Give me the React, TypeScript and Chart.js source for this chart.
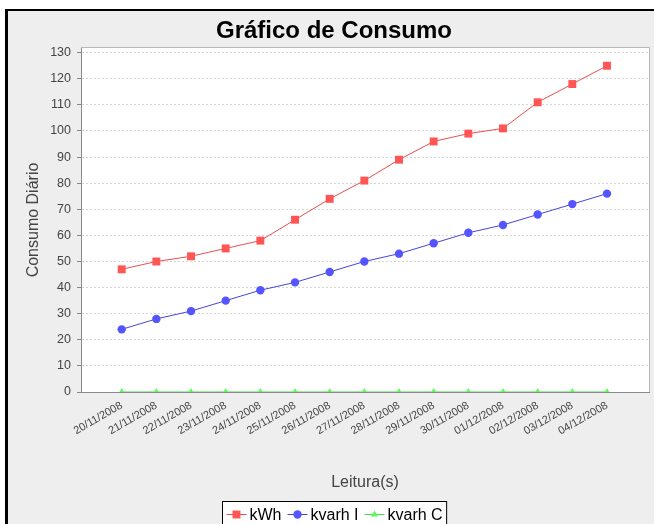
import React, { useEffect, useRef } from 'react';
import { Chart, registerables } from 'chart.js';
import { drawPoint } from 'chart.js/helpers';

Chart.register(...registerables);

const categories = [
  '20/11/2008', '21/11/2008', '22/11/2008', '23/11/2008', '24/11/2008',
  '25/11/2008', '26/11/2008', '27/11/2008', '28/11/2008', '29/11/2008',
  '30/11/2008', '01/12/2008', '02/12/2008', '03/12/2008', '04/12/2008',
];
const kwh = [47, 50, 52, 55, 58, 66, 74, 81, 89, 96, 99, 101, 111, 118, 125];
const kvarhI = [24, 28, 31, 35, 39, 42, 46, 50, 53, 57, 61, 64, 68, 72, 76];
const kvarhC = [0, 0, 0, 0, 0, 0, 0, 0, 0, 0, 0, 0, 0, 0, 0];
const seriesNames = ['kWh', 'kvarh I', 'kvarh C'];
const yTicks = [0, 10, 20, 30, 40, 50, 60, 70, 80, 90, 100, 110, 120, 130];
const yMax = 131.8;
const xMin = -1.174;
const xMax = 15.212;

const FONT = "'Liberation Sans', Arial, sans-serif";
const W = 652;
const H = 520;

const toPoints = (arr: number[]) => arr.map((v, i) => ({ x: i, y: v }));

const bgPlugin = {
  id: 'bgPlot',
  beforeDraw(chart: any) {
    const { ctx, chartArea: a } = chart;
    ctx.save();
    ctx.fillStyle = '#EEEEEE';
    ctx.fillRect(0, 0, chart.width, chart.height);
    ctx.fillStyle = '#FFFFFF';
    ctx.fillRect(a.left, a.top, a.right - a.left, a.bottom - a.top);
    ctx.strokeStyle = '#B8B8B8';
    ctx.lineWidth = 1;
    ctx.strokeRect(a.left + 0.5, a.top - 0.5, a.right - a.left, a.bottom - a.top + 1);
    ctx.restore();
  },
};

const legendPlugin = {
  id: 'boxLegend',
  afterDraw(chart: any) {
    const { ctx } = chart;
    const ds = chart.data.datasets;
    ctx.save();
    ctx.font = `16px ${FONT}`;
    const sym = 20;
    const gapSym = 3;
    const gapItem = 6;
    const padX = 4;
    const widths = ds.map((d: any) => ctx.measureText(d.label).width);
    let total = padX * 2 + gapItem * (ds.length - 1);
    widths.forEach((w: number) => { total += sym + gapSym + w; });
    const x0 = Math.round(chart.width / 2 - total / 2) + 0.5;
    const top = 490.5;
    const h = 27;
    ctx.fillStyle = '#FFFFFF';
    ctx.fillRect(x0, top, total, h);
    ctx.strokeStyle = '#000000';
    ctx.lineWidth = 1;
    ctx.strokeRect(x0, top, total, h);
    let x = x0 + padX;
    const cy = 503.5;
    ds.forEach((d: any, i: number) => {
      ctx.strokeStyle = d.borderColor;
      ctx.lineWidth = 1;
      ctx.beginPath();
      ctx.moveTo(x, cy);
      ctx.lineTo(x + sym, cy);
      ctx.stroke();
      ctx.fillStyle = d.pointBackgroundColor;
      drawPoint(ctx, { pointStyle: d.pointStyle, radius: d.pointRadius, borderWidth: 0, rotation: 0 } as any, x + sym / 2, cy);
      x += sym + gapSym;
      ctx.fillStyle = '#000000';
      ctx.textBaseline = 'middle';
      ctx.textAlign = 'left';
      ctx.fillText(d.label, x, cy + 1);
      x += widths[i] + gapItem;
    });
    ctx.restore();
  },
};

export default function App() {
  const ref = useRef<HTMLCanvasElement | null>(null);

  useEffect(() => {
    if (!ref.current) return;
    const mk = (label: string, data: number[], line: string, color: string, style: string, r: number, clip?: number) => ({
      label,
      data: toPoints(data),
      borderColor: line,
      backgroundColor: color,
      borderWidth: 1,
      pointStyle: style,
      pointRadius: r,
      pointHoverRadius: r,
      pointBackgroundColor: color,
      pointBorderColor: color,
      pointBorderWidth: 0,
      tension: 0,
      fill: false,
      ...(clip !== undefined ? { clip } : {}),
    });
    const chart = new Chart(ref.current, {
      type: 'line',
      data: {
        datasets: [
          mk(seriesNames[0], kwh, '#E85050', '#FF5555', 'rect', 5.6),
          mk(seriesNames[1], kvarhI, '#4646D8', '#5555FF', 'circle', 4.2),
          mk(seriesNames[2], kvarhC, '#40E040', '#55FF55', 'triangle', 4, 0),
        ] as any,
      },
      options: {
        responsive: false,
        animation: false,
        devicePixelRatio: 1,
        layout: { padding: { top: 0, left: 0, right: 0, bottom: 30 } },
        plugins: {
          legend: { display: false },
          tooltip: { enabled: false },
          title: {
            display: true,
            text: 'Gráfico de Consumo',
            color: '#000000',
            font: { family: FONT, size: 24, weight: 'bold' },
            padding: { top: 5.6, bottom: 2.6 },
          },
        },
        scales: {
          x: {
            type: 'linear',
            min: xMin,
            max: xMax,
            afterBuildTicks: (s: any) => { s.ticks = categories.map((_, i) => ({ value: i })); },
            afterFit: (s: any) => { s.height = 109; },
            ticks: {
              autoSkip: false,
              minRotation: 30,
              maxRotation: 30,
              padding: 7,
              color: '#444444',
              font: { family: FONT, size: 11 },
              callback: (_v: any, i: number) => categories[i],
            },
            grid: { display: false, drawTicks: false },
            border: { display: true, color: '#888888' },
            title: {
              display: true,
              text: 'Leitura(s)',
              color: '#444444',
              font: { family: FONT, size: 16 },
              padding: { top: 0, bottom: 8.4 },
            },
          },
          y: {
            type: 'linear',
            min: 0,
            max: yMax,
            afterBuildTicks: (s: any) => { s.ticks = yTicks.map((v) => ({ value: v })); },
            afterFit: (s: any) => { s.width = 73; },
            ticks: {
              padding: 6,
              color: '#444444',
              font: { family: FONT, size: 12.5 },
            },
            grid: {
              color: '#D6D6D6',
              tickColor: '#888888',
              tickLength: 4,
              tickBorderDash: [],
            },
            border: { display: true, color: '#888888', dash: [2, 2] },
            title: {
              display: true,
              text: 'Consumo Diário',
              color: '#444444',
              font: { family: FONT, size: 16 },
              padding: { top: 16.4, bottom: 0 },
            },
          },
          yRightPad: {
            type: 'linear',
            position: 'right',
            display: true,
            afterFit: (s: any) => { s.width = 11; },
            ticks: { display: false },
            grid: { display: false, drawTicks: false },
            border: { display: false },
          },
        },
      },
      plugins: [bgPlugin, legendPlugin],
    });
    return () => chart.destroy();
  }, []);

  return (
    <div
      style={{
        position: 'fixed',
        left: 5,
        top: 9,
        width: 649,
        height: 515,
        boxSizing: 'border-box',
        borderLeft: '3px solid #000',
        borderTop: '2px solid #000',
        overflow: 'hidden',
        background: '#EEEEEE',
      }}
    >
      <canvas ref={ref} width={W} height={H} style={{ display: 'block', width: W, height: H }} />
    </div>
  );
}
